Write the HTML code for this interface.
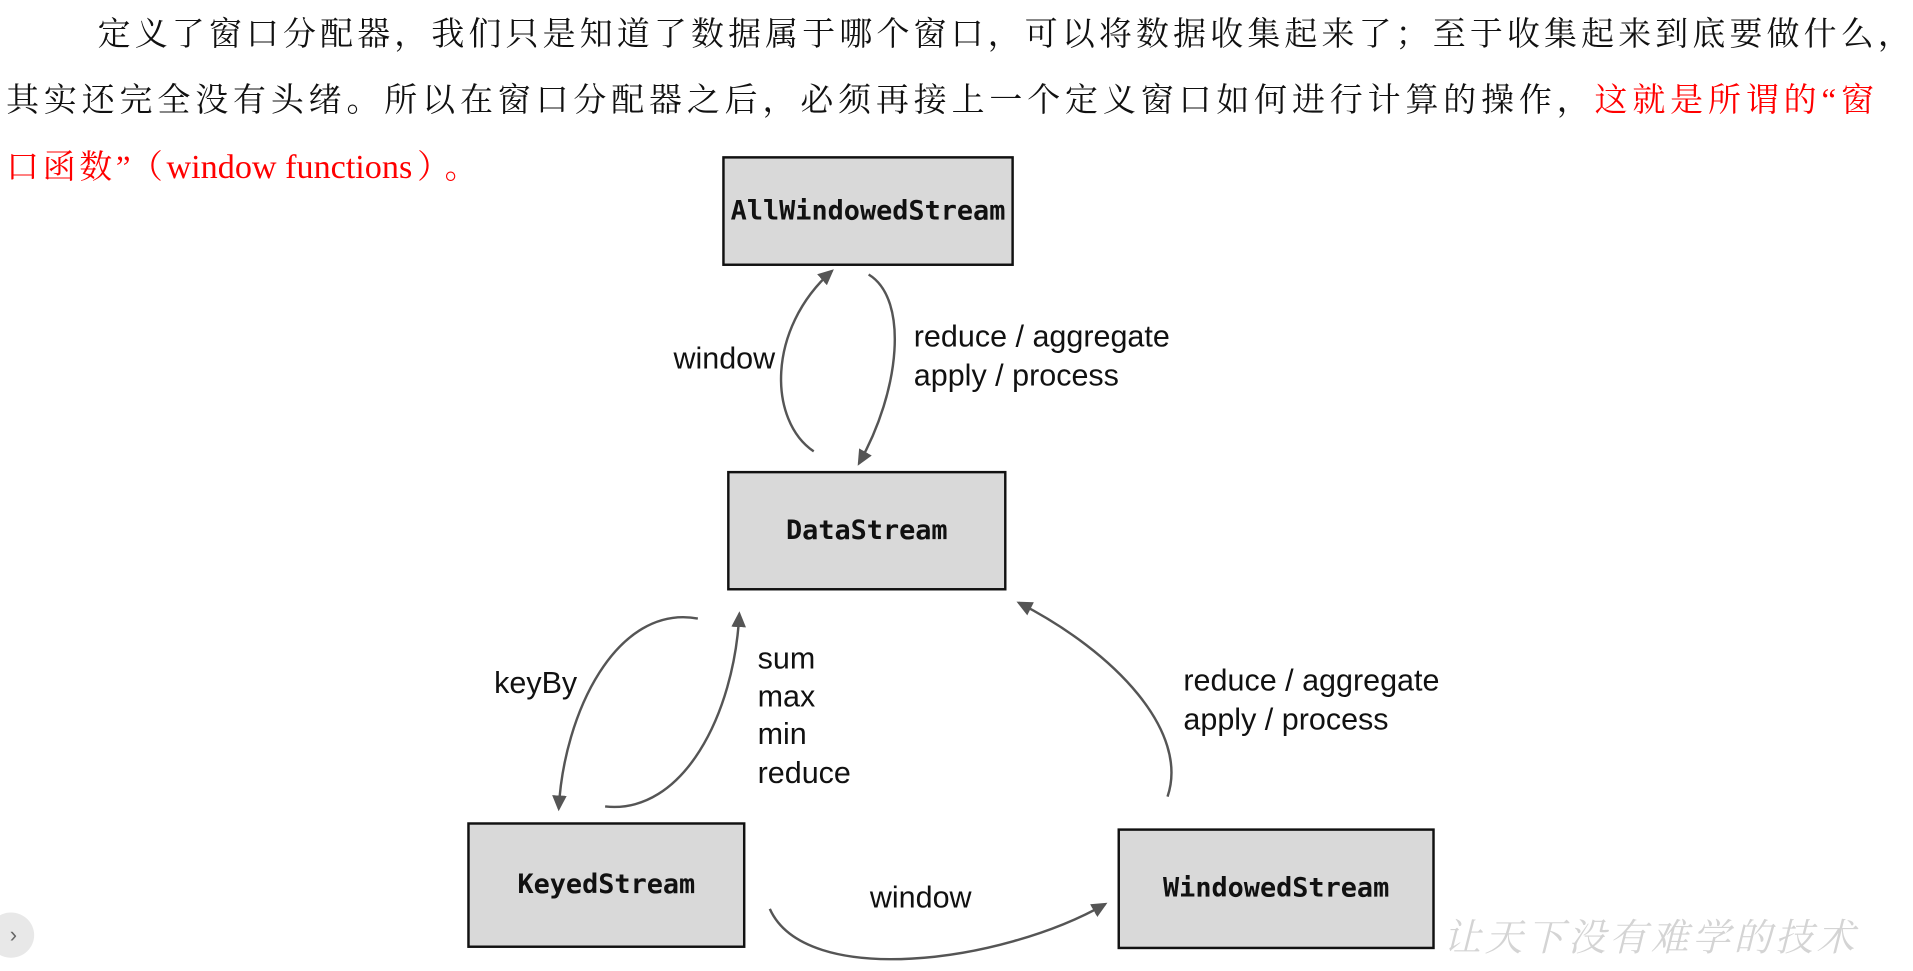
<!DOCTYPE html>
<html><head><meta charset="utf-8"><style>
html,body{margin:0;padding:0;background:#fff;width:1913px;height:971px;overflow:hidden}
#w{position:absolute;left:0;top:0;width:1568px;height:796px;transform:scale(1.22);transform-origin:0 0}
.t{position:absolute;white-space:nowrap;font-family:"Liberation Serif","Noto Serif CJK SC",serif;font-size:27px;color:#111;line-height:30px}
.box{position:absolute;background:#d9d9d9;border:2px solid #111;box-sizing:border-box;display:flex;align-items:center;justify-content:center;font-family:"DejaVu Sans Mono","Liberation Mono",monospace;font-weight:bold;font-size:22px;color:#111}
.l{position:absolute;font-family:"Liberation Sans",sans-serif;font-size:25px;color:#111;white-space:nowrap;line-height:28px}
</style></head><body><div id="w">
<div class="t" style="left:80px;top:13px;letter-spacing:3.4px">定义了窗口分配器，我们只是知道了数据属于哪个窗口，可以将数据收集起来了；至于收集起来到底要做什么，</div>
<div class="t" style="left:5px;top:67px;letter-spacing:4.0px">其实还完全没有头绪。所以在窗口分配器之后，必须再接上一个定义窗口如何进行计算的操作，<span style="color:#f00">这就是所谓的“窗</span></div>
<div class="t" style="left:5px;top:122px;color:#f00;letter-spacing:3px">口函数”<span style="margin-left:10px">（</span><span style="font-size:28px;letter-spacing:0">window functions</span><span style="margin-left:4px">）</span><span style="margin-left:6px">。</span></div>

<div class="box" style="left:592px;top:128px;width:239px;height:90px">AllWindowedStream</div>
<div class="box" style="left:596px;top:386px;width:229px;height:98px">DataStream</div>
<div class="box" style="left:383px;top:674px;width:228px;height:103px">KeyedStream</div>
<div class="box" style="left:916px;top:679px;width:260px;height:99px">WindowedStream</div>

<svg style="position:absolute;left:0;top:0" width="1568" height="796">
<defs><marker id="a" markerWidth="14" markerHeight="14" refX="11" refY="6" orient="auto" markerUnits="userSpaceOnUse"><path d="M0,0 L13,6 L0,12 z" fill="#555"/></marker></defs>
<g fill="none" stroke="#555" stroke-width="2" marker-end="url(#a)">
<path d="M667,370 C630,345 628,270 682,222"/>
<path d="M712,225 C745,245 738,320 704,380"/>
<path d="M572,507 C505,495 462,585 458,663"/>
<path d="M496,661 C560,668 602,585 606,503"/>
<path d="M957,653 C975,600 915,535 835,494"/>
<path d="M631,745 C660,810 820,790 906,741"/>
</g></svg>

<div class="l" style="left:552px;top:280px">window</div>
<div class="l" style="left:749px;top:262px">reduce / aggregate</div>
<div class="l" style="left:749px;top:294px">apply / process</div>
<div class="l" style="left:405px;top:546px">keyBy</div>
<div class="l" style="left:621px;top:526px">sum</div>
<div class="l" style="left:621px;top:557px">max</div>
<div class="l" style="left:621px;top:588px">min</div>
<div class="l" style="left:621px;top:620px">reduce</div>
<div class="l" style="left:970px;top:544px">reduce / aggregate</div>
<div class="l" style="left:970px;top:576px">apply / process</div>
<div class="l" style="left:713px;top:722px">window</div>

<div style="position:absolute;left:1183px;top:743px;font-family:'Noto Serif CJK SC',serif;font-size:31px;color:#d4d4d4;font-style:italic;letter-spacing:3px;white-space:nowrap">让天下没有难学的技术</div>
<div style="position:absolute;left:-10px;top:748px;width:38px;height:37px;border-radius:50%;background:#e8e8e8;color:#666;font-family:'Liberation Sans',sans-serif;font-size:18px;line-height:37px;text-align:right;box-sizing:border-box;padding-right:14px">›</div>
</div></body></html>
